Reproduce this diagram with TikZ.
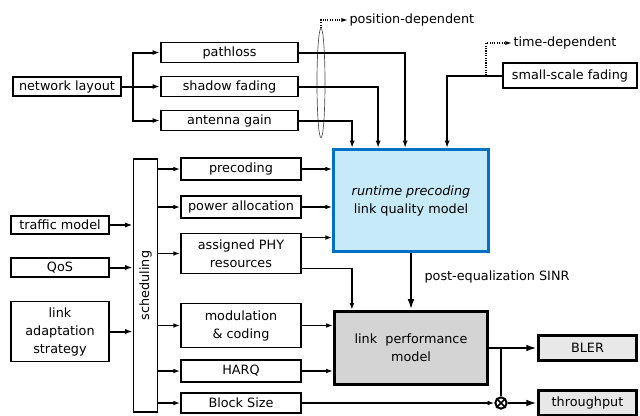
\documentclass[tikz,border=0pt]{standalone}
\usepackage{fontspec}
\setmainfont{DejaVu Sans}
\usetikzlibrary{arrows.meta,shapes.geometric,calc}

\definecolor{lqmblue}{RGB}{0,114,198}
\definecolor{lqmfill}{RGB}{198,234,248}
\definecolor{lpmgray}{RGB}{212,212,212}
\definecolor{outgray}{RGB}{232,232,232}

\tikzset{
    blk/.style={draw, line width=1.4pt, inner sep=1pt, align=center},
    thinln/.style={line width=1pt, -{Latex[length=5pt,width=3.5pt]}},
    thickln/.style={line width=1.5pt, -{Latex[length=5.5pt,width=3.8pt]}},
    fatln/.style={line width=2.2pt, -{Latex[length=8pt,width=5pt]}},
    noteln/.style={densely dotted, line width=0.8pt, -{Latex[length=5pt,width=3pt]}}
}

\begin{document}
\begin{tikzpicture}[x=0.75pt, y=-0.75pt,
    every node/.style={font=\fontsize{9.6}{13.5}\selectfont}]
    \useasboundingbox (0,0) rectangle (640,415);

        %%channel inputs
        \node[blk, minimum width=81pt, minimum height=14pt] (netlayout) at (67, 86.5){network layout};
        \node[blk, minimum width=103pt, minimum height=15pt] (pathloss) at (229.5, 52.5){pathloss};
        \node[blk, minimum width=103pt, minimum height=15pt] (shadow) at (229.5, 86.5){shadow fading};
        \node[blk, minimum width=103pt, minimum height=15pt] (antenna) at (229.5, 120.5){antenna gain};
        \node[blk, minimum width=101pt, minimum height=19pt] (smallscale) at (570, 75.5){small-scale fading};

            \coordinate (nlsplit) at (133, 86.5);
            \draw[line width=1.5pt] (netlayout.east) -- (nlsplit);
            \draw[thickln] (nlsplit) -- (shadow.west);
            \draw[thickln] (nlsplit) |- (pathloss.west);
            \draw[thickln] (nlsplit) |- (antenna.west);

        %%notes
        \node[ellipse, draw, line width=0.5pt, black!70, minimum width=6pt, minimum height=82pt, inner sep=0pt] (posgroup) at (321, 83){};
        \node[anchor=west, inner sep=1pt] (posdep) at (348, 20){position-dependent};
        \node[anchor=west, inner sep=1pt] (timedep) at (512, 43){time-dependent};
            \draw[noteln] (posgroup.north) |- (posdep.west);
            \coordinate (tdfoot) at (486, 75.5);
            \draw[noteln] (tdfoot) |- (timedep.west);

        %%link quality model
        \node[draw=lqmblue, fill=lqmfill, line width=2.3pt, minimum width=116pt, minimum height=76.5pt, align=center] (LQM) at (411, 200.5){\textit{runtime precoding}\\link quality model};

            \draw[thickln] (pathloss.east) -| ($(LQM.north west)+(73,0)$);
            \draw[thickln] (shadow.east) -| ($(LQM.north west)+(46,0)$);
            \draw[thickln] (antenna.east) -| ($(LQM.north west)+(20,0)$);
            \draw[thickln] (smallscale.west) -| ($(LQM.north west)+(115,0)$);

        %%scheduling
        \node[blk, minimum width=18pt, minimum height=190pt] (sched) at (145.5, 285.5){\rotatebox{90}{scheduling}};
        \node[blk, minimum width=74pt, minimum height=14pt] (traffic) at (60, 225){traffic model};
        \node[blk, minimum width=74pt, minimum height=14pt] (qos) at (60, 267.5){QoS};
        \node[blk, minimum width=74pt, minimum height=45pt] (linkadapt) at (60, 331.5){link\\adaptation\\strategy};

            \draw[thickln] (traffic.east) -- (traffic.east -| sched.west);
            \draw[thickln] (qos.east) -- (qos.east -| sched.west);
            \draw[thickln] (linkadapt.east) -- (linkadapt.east -| sched.west);

        \node[blk, minimum width=90pt, minimum height=16pt] (precoding) at (241, 169){precoding};
        \node[blk, minimum width=90pt, minimum height=16pt] (power) at (241, 207){power allocation};
        \node[blk, minimum width=90pt, minimum height=30pt] (assigned) at (241, 253.5){assigned PHY\\resources};
        \node[blk, minimum width=90pt, minimum height=33pt] (modcod) at (241, 325.5){modulation\\\& coding};
        \node[blk, minimum width=90pt, minimum height=16pt] (harq) at (241, 371){HARQ};
        \node[blk, minimum width=90pt, minimum height=15pt] (blocksize) at (241, 403){Block Size};

            \draw[thinln] (precoding.west -| sched.east) -- (precoding.west);
            \draw[thinln] (power.west -| sched.east) -- (power.west);
            \draw[thinln] (assigned.west -| sched.east) -- (assigned.west);
            \draw[thinln] (modcod.west -| sched.east) -- (modcod.west);
            \draw[thinln] (harq.west -| sched.east) -- (harq.west);
            \draw[thinln] (blocksize.west -| sched.east) -- (blocksize.west);

            \coordinate (asgtop) at ($(assigned.north east)+(0,5)$);
            \coordinate (asgbot) at ($(assigned.south east)+(0,-6)$);
            \draw[thinln] (precoding.east) -- (precoding.east -| LQM.west);
            \draw[thinln] (power.east) -- (power.east -| LQM.west);
            \draw[thinln] (asgtop) -- (asgtop -| LQM.west);

        %%link performance model
        \node[draw, fill=lpmgray, line width=2.2pt, minimum width=115pt, minimum height=55pt, align=center] (LPM) at (411, 348){link~ performance\\model};

            \draw[thinln] (asgbot) -| ($(LPM.north west)+(19,0)$);
            \draw[fatln] (LQM.south) -- (LPM.north);
                \node[anchor=west, inner sep=1pt] (sinr) at (423, 277){post-equalization SINR};
            \draw[thinln] (modcod.east) -- (modcod.east -| LPM.west);
            \draw[thinln] (harq.east) -- (harq.east -| LPM.west);

        %%outputs
        \node[draw, fill=outgray, line width=2.2pt, minimum width=73.5pt, minimum height=19pt] (bler) at (587.5, 348){BLER};
        \node[draw, fill=outgray, line width=2.2pt, minimum width=73.5pt, minimum height=19pt] (throughput) at (587.5, 403){throughput};
        \node[circle, draw, fill=white, line width=1.5pt, minimum size=8.5pt, inner sep=0pt] (otimes) at (501, 403){};
            \draw[line width=1.2pt] (otimes.north east) -- (otimes.south west)
                                    (otimes.north west) -- (otimes.south east);

            \coordinate (lpmsplit) at (501, 348);
            \draw[fatln] (LPM.east) -- (bler.west);
            \draw[line width=2.2pt] (lpmsplit) -- (otimes.north);
            \draw[fatln] (otimes.east) -- (throughput.west);
            \draw[thinln] (blocksize.east) -- (otimes.west);
    \end{tikzpicture}
\end{document}
